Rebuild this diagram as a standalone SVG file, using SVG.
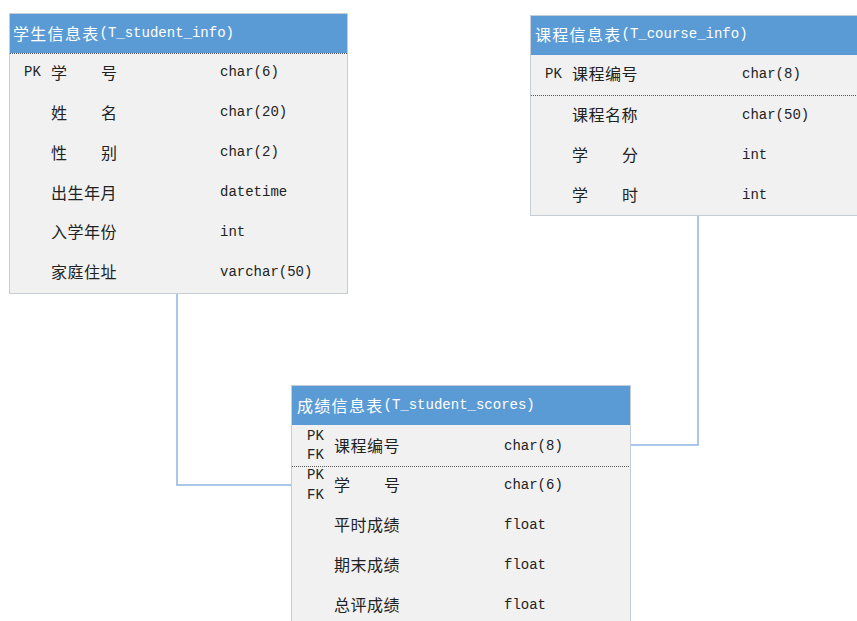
<svg xmlns="http://www.w3.org/2000/svg" width="857" height="621" viewBox="0 0 857 621">
<style>
.body{fill:#f1f1f1;stroke:#c6cdd6;stroke-width:1}
.head{fill:#5b9bd5}
.sep{stroke:#555;stroke-width:1;stroke-dasharray:1 1}
.cj{font-family:"Noto Sans CJK SC","Noto Sans",sans-serif;font-size:16px;fill:#222;letter-spacing:0.5px}
.mo{font-family:"Liberation Mono","DejaVu Sans Mono",monospace;font-size:14px;fill:#222}
.ht{fill:#fff}
.hc{font-family:"Noto Sans CJK SC","Noto Sans",sans-serif;font-size:16px;letter-spacing:1.3px}
.hm{font-family:"Liberation Mono","DejaVu Sans Mono",monospace;font-size:14px}
.conn{fill:none;stroke:#8db6e2;stroke-width:1.5}
text{dominant-baseline:central}
</style>
<rect width="857" height="621" fill="#fff"/>
<g id="connectors">
<polyline class="conn" points="177,293 177,485 291,485"/>
<polyline class="conn" points="698,215 698,445 630,445"/>
</g>
<g id="T_student_info">
<rect class="body" x="9.5" y="13.5" width="338" height="280"/>
<rect class="head" x="10" y="14" width="337" height="39"/>
<line class="sep" x1="10" y1="53.5" x2="347" y2="53.5"/>
<text class="ht" x="13" y="33"><tspan class="hc">学生信息表</tspan><tspan class="hm">(T_student_info)</tspan></text>
<text class="mo" x="24" y="72">PK</text>
<text class="cj" x="51" y="72">学</text><text class="cj" x="101" y="72">号</text>
<text class="mo" x="220" y="72">char(6)</text>
<text class="cj" x="51" y="112">姓</text><text class="cj" x="101" y="112">名</text>
<text class="mo" x="220" y="112">char(20)</text>
<text class="cj" x="51" y="152">性</text><text class="cj" x="101" y="152">别</text>
<text class="mo" x="220" y="152">char(2)</text>
<text class="cj" x="51" y="192">出生年月</text>
<text class="mo" x="220" y="192">datetime</text>
<text class="cj" x="51" y="231">入学年份</text>
<text class="mo" x="220" y="232">int</text>
<text class="cj" x="51" y="271">家庭住址</text>
<text class="mo" x="220" y="272">varchar(50)</text>
</g>
<g id="T_course_info">
<rect class="body" x="530.5" y="15.5" width="340" height="200"/>
<rect class="head" x="531" y="16" width="339" height="39"/>
<text class="ht" x="535" y="34"><tspan class="hc">课程信息表</tspan><tspan class="hm">(T_course_info)</tspan></text>
<text class="mo" x="545" y="74">PK</text>
<text class="cj" x="572" y="73">课程编号</text>
<text class="mo" x="742" y="74">char(8)</text>
<line class="sep" x1="531" y1="95.5" x2="857" y2="95.5"/>
<text class="cj" x="572" y="114">课程名称</text>
<text class="mo" x="742" y="115">char(50)</text>
<text class="cj" x="572" y="154">学</text><text class="cj" x="622" y="154">分</text>
<text class="mo" x="742" y="155">int</text>
<text class="cj" x="572" y="194">学</text><text class="cj" x="622" y="194">时</text>
<text class="mo" x="742" y="195">int</text>
</g>
<g id="T_student_scores">
<rect class="body" x="291.5" y="385.5" width="339" height="250"/>
<rect class="head" x="292" y="386" width="338" height="39"/>
<text class="ht" x="297" y="405"><tspan class="hc">成绩信息表</tspan><tspan class="hm">(T_student_scores)</tspan></text>
<text class="mo" x="307" y="436">PK</text>
<text class="mo" x="307" y="455">FK</text>
<text class="cj" x="334" y="445">课程编号</text>
<text class="mo" x="504" y="446">char(8)</text>
<line class="sep" x1="292" y1="466.5" x2="630" y2="466.5"/>
<text class="mo" x="307" y="475">PK</text>
<text class="mo" x="307" y="495">FK</text>
<text class="cj" x="334" y="484">学</text><text class="cj" x="384" y="484">号</text>
<text class="mo" x="504" y="485">char(6)</text>
<text class="cj" x="334" y="524">平时成绩</text>
<text class="mo" x="504" y="525">float</text>
<text class="cj" x="334" y="564">期末成绩</text>
<text class="mo" x="504" y="565">float</text>
<text class="cj" x="334" y="604">总评成绩</text>
<text class="mo" x="504" y="605">float</text>
</g>
</svg>
